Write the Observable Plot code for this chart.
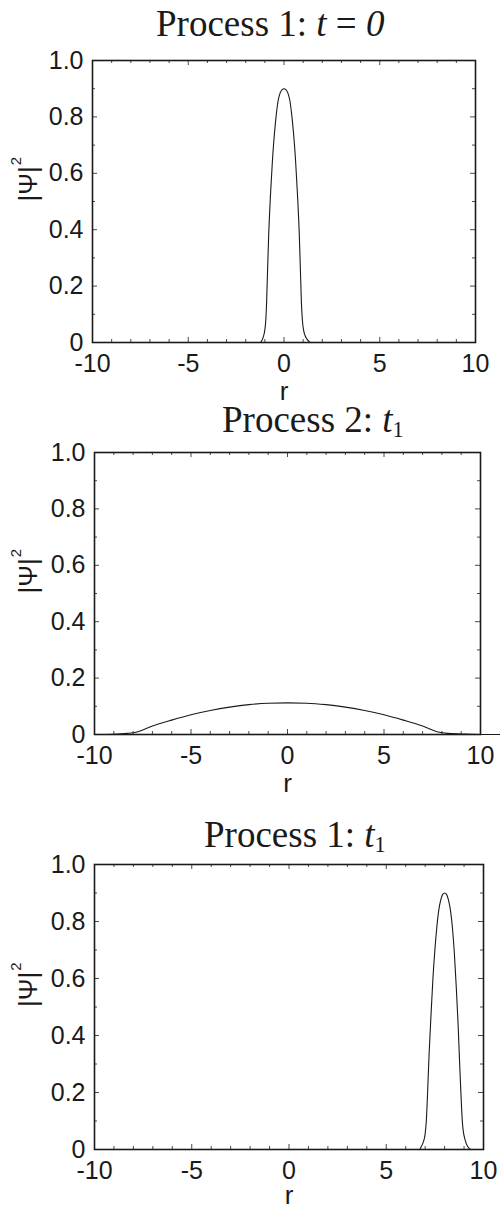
<!DOCTYPE html>
<html><head><meta charset="utf-8">
<script src="https://cdn.jsdelivr.net/npm/d3@7"></script>
<script src="https://cdn.jsdelivr.net/npm/@observablehq/plot@0.6"></script>
<style>
html,body{margin:0;padding:0;background:#fff;}
#root{position:relative;width:500px;height:1209px;overflow:hidden;background:#fff;}
.panel{position:absolute;left:0;}
.title{position:absolute;font-family:"Liberation Serif","Times New Roman",serif;font-size:37px;line-height:24px;color:#1a1a1a;white-space:nowrap;}
.title i{font-style:italic;}
.title sub{font-size:0.6em;vertical-align:-5px;line-height:0;}
</style></head><body><div id="root"></div>
<script>
// ---- data ----
const titles = [
  'Process 1: <i>t</i> = <i>0</i>',
  'Process 2: <i>t</i><sub>1</sub>',
  'Process 1: <i>t</i><sub>1</sub>'
];
const xTicks = [-10, -5, 0, 5, 10];
const xMinor = [-9, -8, -7, -6, -4, -3, -2, -1, 1, 2, 3, 4, 6, 7, 8, 9];
const yTicks = [0, 0.2, 0.4, 0.6, 0.8, 1.0];
const yMinor = [0.1, 0.3, 0.5, 0.7, 0.9];
const xLabel = "r";
const yLabelMain = "|\u03A8|";
const yLabelSup = "2";

// Process 1, t = 0
const r1 =   [-10, -1.25, -1.15, -1.08, -1.0, -0.95, -0.91, -0.86, -0.8, -0.7, -0.6, -0.5, -0.4, -0.3, -0.2, -0.1, 0, 0.1, 0.2, 0.3, 0.4, 0.5, 0.6, 0.7, 0.8, 0.86, 0.91, 0.96, 1.02, 1.1, 1.2, 1.3, 1.38, 10];
const psi1 = [0, 0, 0.008, 0.02, 0.045, 0.08, 0.14, 0.25, 0.38, 0.53, 0.65, 0.74, 0.81, 0.86, 0.885, 0.897, 0.9, 0.897, 0.885, 0.86, 0.81, 0.74, 0.65, 0.53, 0.38, 0.25, 0.14, 0.08, 0.045, 0.025, 0.012, 0.004, 0, 0];

// Process 2, t1
const r2 =   [-10, -9, -8.3, -7.8, -7, -6, -5, -4, -3, -2, -1, 0, 1, 2, 3, 4, 5, 6, 7, 7.8, 8.3, 9, 10, 11.1];
const psi2 = [0, 0.001, 0.004, 0.009, 0.03, 0.051, 0.07, 0.085, 0.097, 0.106, 0.111, 0.112, 0.111, 0.106, 0.097, 0.085, 0.07, 0.051, 0.03, 0.009, 0.004, 0.002, 0, 0];

// Process 1, t1
const r3 =   [-10, 6.7, 6.8, 6.9, 7.0, 7.06, 7.12, 7.2, 7.3, 7.4, 7.5, 7.6, 7.7, 7.8, 7.9, 8.0, 8.1, 8.2, 8.3, 8.4, 8.5, 8.6, 8.7, 8.78, 8.85, 8.92, 8.97, 9.05, 9.15, 9.25, 9.37, 10];
const psi3 = [0, 0, 0.01, 0.025, 0.055, 0.1, 0.19, 0.33, 0.47, 0.6, 0.7, 0.78, 0.84, 0.875, 0.895, 0.9, 0.895, 0.875, 0.84, 0.78, 0.69, 0.57, 0.43, 0.29, 0.18, 0.09, 0.06, 0.035, 0.015, 0.005, 0, 0];

// ---- layout ----
const panels = [
  {r: r1, psi: psi1, top: 0,   height: 402, mt: 60, mb: 60, ml: 92, mr: 25, titleLeft: 156, titleTop: 11.5, rdy: 57},
  {r: r2, psi: psi2, top: 400, height: 394, mt: 52, mb: 60, ml: 94, mr: 20, titleLeft: 222, titleTop: 407.5, rdy: 57},
  {r: r3, psi: psi3, top: 810, height: 399, mt: 54, mb: 60, ml: 94, mr: 17, titleLeft: 204, titleTop: 822.5, rdy: 54}
];

const ink = "#1a1a1a";
const sans = "Liberation Sans, Arial, Helvetica, sans-serif";
const root = document.getElementById("root");

panels.forEach((p, i) => {
  const fw = 500 - p.ml - p.mr;
  const fh = p.height - p.mt - p.mb;
  const data = p.r.map((r, k) => ({r, v: p.psi[k]}));
  const fmtY = d => d === 0 ? "0" : d.toFixed(1);
  const svg = Plot.plot({
    width: 500, height: p.height,
    marginTop: p.mt, marginBottom: p.mb, marginLeft: p.ml, marginRight: p.mr,
    style: {background: "transparent", overflow: "visible"},
    x: {domain: [-10, 10], axis: null},
    y: {domain: [0, 1], axis: null},
    marks: [
      Plot.ruleX(xMinor, {insetTop: fh - 3, stroke: ink, strokeWidth: 0.8}),
      Plot.ruleX(xMinor, {insetBottom: fh - 3, stroke: ink, strokeWidth: 0.8}),
      Plot.ruleX(xTicks, {insetTop: fh - 5, stroke: ink, strokeWidth: 0.8}),
      Plot.ruleX(xTicks, {insetBottom: fh - 5, stroke: ink, strokeWidth: 0.8}),
      Plot.ruleY(yMinor, {insetRight: fw - 3, stroke: ink, strokeWidth: 0.8}),
      Plot.ruleY(yMinor, {insetLeft: fw - 3, stroke: ink, strokeWidth: 0.8}),
      Plot.ruleY(yTicks, {insetRight: fw - 5, stroke: ink, strokeWidth: 0.8}),
      Plot.ruleY(yTicks, {insetLeft: fw - 5, stroke: ink, strokeWidth: 0.8}),
      Plot.line(data, {x: "r", y: "v", stroke: ink, strokeWidth: 1.1, curve: "monotone-x"}),
      Plot.frame({stroke: ink, strokeWidth: 1.6}),
      Plot.text(xTicks, {x: d => d, text: d => String(d), frameAnchor: "bottom", lineAnchor: "top", dy: 12, fontSize: 25, fontFamily: sans, fill: ink}),
      Plot.text(yTicks, {y: d => d, text: fmtY, frameAnchor: "left", textAnchor: "end", dx: -9, fontSize: 25, fontFamily: sans, fill: ink}),
      Plot.text([xLabel], {frameAnchor: "bottom", dy: p.rdy, fontSize: 26, fontFamily: sans, fill: ink}),
      Plot.text([yLabelMain], {frameAnchor: "left", rotate: -90, dx: 28 - p.ml, fontSize: 26, fontFamily: sans, fill: ink})
    ]
  });
  // superscript "2" on the y label
  svg.querySelectorAll("text").forEach(t => {
    if (t.textContent === yLabelMain) {
      const ts = document.createElementNS("http://www.w3.org/2000/svg", "tspan");
      ts.setAttribute("dy", "-16");
      ts.setAttribute("dx", "1");
      ts.setAttribute("font-size", "15");
      ts.textContent = yLabelSup;
      t.appendChild(ts);
    }
  });
  svg.classList.add("panel");
  svg.style.top = p.top + "px";
  svg.style.position = "absolute";
  root.appendChild(svg);

  const t = document.createElement("div");
  t.className = "title";
  t.innerHTML = titles[i];
  t.style.left = p.titleLeft + "px";
  t.style.top = p.titleTop + "px";
  root.appendChild(t);
});
</script>
</body></html>
